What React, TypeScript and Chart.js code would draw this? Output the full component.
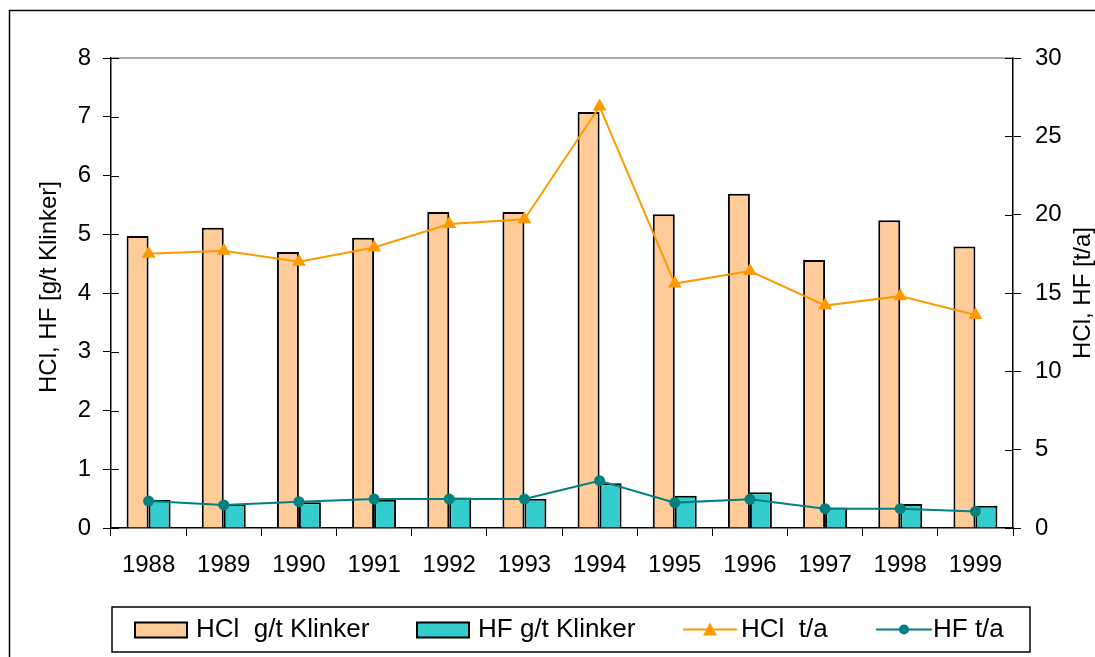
import React, { useEffect, useRef } from "react";
import { Chart, registerables } from "chart.js";

Chart.register(...registerables);

const years = ["1988", "1989", "1990", "1991", "1992", "1993", "1994", "1995", "1996", "1997", "1998", "1999"];
const hclGt = [4.97, 5.11, 4.7, 4.94, 5.38, 5.38, 7.08, 5.34, 5.69, 4.56, 5.24, 4.79];
const hfGt = [0.48, 0.41, 0.44, 0.48, 0.52, 0.5, 0.76, 0.55, 0.61, 0.35, 0.41, 0.38];
const hclTa = [17.5, 17.7, 17.0, 17.9, 19.4, 19.7, 26.9, 15.6, 16.4, 14.2, 14.8, 13.6];
const hfTa = [1.72, 1.47, 1.68, 1.85, 1.85, 1.85, 3.02, 1.62, 1.83, 1.23, 1.23, 1.06];

const labels = ["HCl  g/t Klinker", "HF g/t Klinker", "HCl  t/a", "HF t/a"];
const leftTitle = "HCl, HF [g/t Klinker]";
const rightTitle = "HCl, HF [t/a]";

const ORANGE_FILL = "#FFCC99";
const TEAL_FILL = "#33CCCC";
const ORANGE_LINE = "#FF9900";
const TEAL_LINE = "#008080";
const FONT = "'Liberation Sans', Arial, sans-serif";

const W = 1087;
const H = 649;

const decorPlugin = {
  id: "decor",
  afterDraw(chart: any) {
    const ctx = chart.ctx as CanvasRenderingContext2D;
    const ca = chart.chartArea;
    ctx.save();
    // outer border (left and top visible)
    ctx.strokeStyle = "#000";
    ctx.lineWidth = 1.5;
    ctx.beginPath();
    ctx.moveTo(1.5, H + 5);
    ctx.lineTo(1.5, 2.5);
    ctx.lineTo(W + 5, 2.5);
    ctx.stroke();

    // top gray line of plot area
    ctx.strokeStyle = "#909090";
    ctx.lineWidth = 1.5;
    ctx.beginPath();
    ctx.moveTo(ca.left, ca.top);
    ctx.lineTo(ca.right, ca.top);
    ctx.stroke();

    // inner tick halves
    ctx.strokeStyle = "#000";
    ctx.lineWidth = 1;
    const y = chart.scales.y;
    y.ticks.forEach((t: any) => {
      const py = Math.round(y.getPixelForValue(t.value)) + 0.5;
      ctx.beginPath();
      ctx.moveTo(ca.left, py);
      ctx.lineTo(ca.left + 8, py);
      ctx.stroke();
    });
    const y1 = chart.scales.y1;
    y1.ticks.forEach((t: any) => {
      const py = Math.round(y1.getPixelForValue(t.value)) + 0.5;
      ctx.beginPath();
      ctx.moveTo(ca.right - 8, py);
      ctx.lineTo(ca.right, py);
      ctx.stroke();
    });

    // axis titles (both read bottom-to-top)
    const midY = (ca.top + ca.bottom) / 2;
    ctx.fillStyle = "#000";
    ctx.font = "24px " + FONT;
    ctx.textAlign = "center";
    ctx.textBaseline = "middle";
    ctx.save();
    ctx.translate(41, midY - 6);
    ctx.rotate(-Math.PI / 2);
    ctx.fillText(leftTitle, 0, 0);
    ctx.restore();
    ctx.save();
    ctx.translate(1075, midY);
    ctx.rotate(-Math.PI / 2);
    ctx.fillText(rightTitle, 0, 0);
    ctx.restore();

    // legend
    const bx = 104, by = 599, bw = 918, bh = 45;
    ctx.strokeStyle = "#000";
    ctx.lineWidth = 1.5;
    ctx.strokeRect(bx, by, bw, bh);
    const cy = by + bh / 2;
    ctx.font = "26px " + FONT;
    ctx.fillStyle = "#000";
    ctx.textBaseline = "middle";
    ctx.textAlign = "left";

    // swatch 1
    ctx.fillStyle = ORANGE_FILL;
    ctx.fillRect(127, cy - 7, 52, 15);
    ctx.lineWidth = 2;
    ctx.strokeRect(127, cy - 7, 52, 15);
    ctx.fillStyle = "#000";
    ctx.fillText(labels[0], 188, cy);

    // swatch 2
    ctx.fillStyle = TEAL_FILL;
    ctx.fillRect(409, cy - 7, 52, 15);
    ctx.strokeRect(409, cy - 7, 52, 15);
    ctx.fillStyle = "#000";
    ctx.fillText(labels[1], 470, cy);

    // line 1
    ctx.strokeStyle = ORANGE_LINE;
    ctx.lineWidth = 2;
    ctx.beginPath();
    ctx.moveTo(675, cy);
    ctx.lineTo(729, cy);
    ctx.stroke();
    ctx.fillStyle = ORANGE_LINE;
    ctx.beginPath();
    ctx.moveTo(702, cy - 7);
    ctx.lineTo(709, cy + 6);
    ctx.lineTo(695, cy + 6);
    ctx.closePath();
    ctx.fill();
    ctx.fillStyle = "#000";
    ctx.fillText(labels[2], 733, cy);

    // line 2
    ctx.strokeStyle = TEAL_LINE;
    ctx.beginPath();
    ctx.moveTo(868, cy);
    ctx.lineTo(924, cy);
    ctx.stroke();
    ctx.fillStyle = TEAL_LINE;
    ctx.beginPath();
    ctx.arc(896, cy, 5, 0, Math.PI * 2);
    ctx.fill();
    ctx.fillStyle = "#000";
    ctx.fillText(labels[3], 925, cy);

    ctx.restore();
  },
};

export default function App() {
  const ref = useRef<HTMLCanvasElement | null>(null);

  useEffect(() => {
    document.body.style.margin = "0";
    document.body.style.overflow = "hidden";
    if (!ref.current) return;
    Chart.defaults.font.family = FONT;
    const chart = new Chart(ref.current, {
      type: "bar",
      data: {
        labels: years,
        datasets: [
          {
            type: "line",
            label: labels[2],
            data: hclTa,
            yAxisID: "y1",
            borderColor: ORANGE_LINE,
            backgroundColor: ORANGE_LINE,
            borderWidth: 2,
            pointStyle: "triangle",
            pointRadius: 8,
            pointBorderWidth: 0,
            order: 1,
          },
          {
            type: "line",
            label: labels[3],
            data: hfTa,
            yAxisID: "y1",
            borderColor: TEAL_LINE,
            backgroundColor: TEAL_LINE,
            borderWidth: 2,
            pointStyle: "circle",
            pointRadius: 5.5,
            pointBorderWidth: 0,
            order: 1,
          },
          {
            type: "bar",
            label: labels[0],
            data: hclGt,
            yAxisID: "y",
            backgroundColor: ORANGE_FILL,
            borderColor: "#000",
            borderWidth: 2,
            barPercentage: 1,
            categoryPercentage: 0.585,
            order: 2,
          },
          {
            type: "bar",
            label: labels[1],
            data: hfGt,
            yAxisID: "y",
            backgroundColor: TEAL_FILL,
            borderColor: "#000",
            borderWidth: 2,
            barPercentage: 1,
            categoryPercentage: 0.585,
            order: 2,
          },
        ] as any,
      },
      options: {
        responsive: false,
        animation: false,
        devicePixelRatio: 1,
        layout: { padding: { top: 50, left: 0, right: 0, bottom: 0 } },
        plugins: { legend: { display: false }, tooltip: { enabled: false } },
        scales: {
          x: {
            offset: true,
            grid: { offset: true, drawOnChartArea: false, tickLength: 8, color: "#000" },
            border: { color: "#000", width: 1.5 },
            ticks: { color: "#000", font: { size: 24 }, padding: 15, maxRotation: 0 },
            afterFit: (s: any) => { s.height = H - 520; },
          },
          y: {
            position: "left",
            min: 0,
            max: 8,
            ticks: { stepSize: 1, color: "#000", font: { size: 24 }, padding: 12 },
            grid: { drawOnChartArea: false, tickLength: 8, color: "#000" },
            border: { color: "#000", width: 1.5 },
            afterFit: (s: any) => { s.width = 103; },
          },
          y1: {
            position: "right",
            min: 0,
            max: 30,
            ticks: { stepSize: 5, color: "#000", font: { size: 24 }, padding: 14 },
            grid: { drawOnChartArea: false, tickLength: 8, color: "#000" },
            border: { color: "#000", width: 1.5 },
            afterFit: (s: any) => { s.width = W - 1005; },
          },
        },
      } as any,
      plugins: [decorPlugin],
    });
    return () => chart.destroy();
  }, []);

  return (
    <div style={{ paddingLeft: 8, paddingTop: 8, width: W, height: H }}>
      <canvas ref={ref} width={W} height={H} style={{ display: "block", width: W, height: H }} />
    </div>
  );
}
